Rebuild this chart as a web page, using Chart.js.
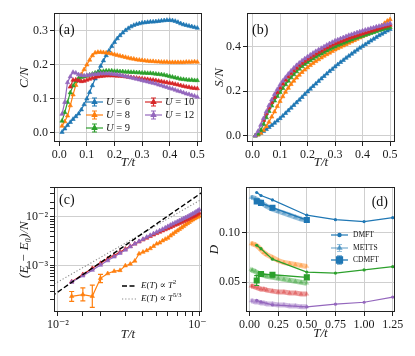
<!DOCTYPE html>
<html lang="en">
<head>
<meta charset="UTF-8">
<title>Hubbard thermodynamics</title>
<script src="https://cdn.jsdelivr.net/npm/chart.js@4.4.1/dist/chart.umd.min.js"></script>
<style>
    body { margin: 0; background: #fff; }
    #wrap { position: relative; width: 415px; height: 356px; }
    canvas { position: absolute; }
</style>
</head>
<body>
<div id="wrap">
    <canvas id="ca" width="207" height="178" style="left:0;top:0"></canvas>
    <canvas id="cb" width="208" height="178" style="left:207px;top:0"></canvas>
    <canvas id="cc" width="207" height="178" style="left:0;top:178px"></canvas>
    <canvas id="cd" width="208" height="178" style="left:207px;top:178px"></canvas>
</div>
<script>
// ---- panel (a)/(b): T grid, specific heat and entropy ----
const tGrid = [0.01,0.02,0.03,0.04,0.05,0.06,0.07,0.08,0.09,0.10,
               0.11,0.12,0.13,0.14,0.15,0.16,0.17,0.18,0.19,0.20,
               0.21,0.22,0.23,0.24,0.25,0.26,0.27,0.28,0.29,0.30,
               0.31,0.32,0.33,0.34,0.35,0.36,0.37,0.38,0.39,0.40,
               0.41,0.42,0.43,0.44,0.45,0.46,0.47,0.48,0.49,0.50];

const cU6  = [0.002,0.012,0.022,0.031,0.040,0.048,0.056,0.068,0.083,0.100, 0.119,0.139,0.159,0.178,0.196,0.212,0.227,0.241,0.254,0.266,
              0.277,0.286,0.294,0.301,0.307,0.312,0.316,0.319,0.321,0.323, 0.324,0.325,0.326,0.326,0.327,0.328,0.329,0.330,0.331,0.331,
              0.330,0.328,0.325,0.321,0.318,0.316,0.314,0.312,0.310,0.308];
const cU8  = [0.020,0.033,0.050,0.080,0.112,0.140,0.158,0.172,0.186,0.200, 0.214,0.227,0.235,0.237,0.237,0.236,0.235,0.234,0.232,0.230,
              0.228,0.226,0.224,0.222,0.220,0.218,0.217,0.215,0.214,0.213, 0.212,0.211,0.210,0.210,0.209,0.209,0.208,0.208,0.208,0.207,
              0.207,0.207,0.207,0.207,0.207,0.208,0.208,0.208,0.209,0.208];
const cU9  = [0.035,0.060,0.090,0.118,0.138,0.152,0.160,0.163,0.165,0.167, 0.170,0.173,0.176,0.178,0.180,0.181,0.182,0.182,0.182,0.181,
              0.181,0.180,0.180,0.179,0.179,0.178,0.178,0.177,0.177,0.176, 0.176,0.175,0.175,0.174,0.173,0.172,0.171,0.170,0.168,0.166,
              0.164,0.162,0.160,0.158,0.157,0.156,0.155,0.155,0.154,0.154];
const cU10 = [null,null,null,0.135,0.155,0.156,0.153,0.151,0.152,0.155, 0.158,0.161,0.163,0.165,0.166,0.167,0.168,0.168,0.168,0.168,
              0.167,0.167,0.166,0.165,0.164,0.163,0.162,0.161,0.160,0.159, 0.158,0.157,0.156,0.155,0.154,0.152,0.151,0.149,0.148,0.146,
              0.145,0.143,0.141,0.139,0.137,0.135,0.134,0.132,0.131,0.130];
const cU12 = [0.055,0.090,0.148,0.165,0.178,0.176,0.171,0.169,0.168,0.169, 0.170,0.171,0.172,0.173,0.174,0.174,0.174,0.174,0.173,0.172,
              0.171,0.170,0.168,0.166,0.164,0.162,0.160,0.158,0.156,0.154, 0.152,0.150,0.148,0.146,0.144,0.141,0.139,0.136,0.134,0.131,
              0.129,0.126,0.123,0.121,0.118,0.115,0.113,0.110,0.108,0.105];

const sU6  = [0.000,0.005,0.012,0.020,0.029,0.038,0.047,0.057,0.067,0.078, 0.089,0.101,0.113,0.125,0.137,0.149,0.161,0.173,0.186,0.198,
              0.210,0.222,0.233,0.245,0.256,0.267,0.278,0.289,0.299,0.310, 0.320,0.330,0.339,0.349,0.358,0.367,0.376,0.385,0.394,0.402,
              0.410,0.418,0.426,0.434,0.442,0.450,0.457,0.464,0.471,0.478];
const sU8  = [0.000,0.004,0.012,0.025,0.042,0.062,0.085,0.108,0.132,0.155, 0.176,0.196,0.214,0.231,0.246,0.260,0.273,0.285,0.296,0.306,
              0.316,0.325,0.334,0.342,0.350,0.358,0.365,0.372,0.379,0.386, 0.392,0.398,0.404,0.410,0.416,0.422,0.428,0.434,0.440,0.446,
              0.452,0.458,0.464,0.470,0.476,0.484,0.494,0.505,0.515,0.522];
const sU9  = [0.000,0.008,0.025,0.052,0.082,0.110,0.135,0.157,0.177,0.195, 0.213,0.230,0.246,0.261,0.275,0.288,0.300,0.311,0.321,0.330,
              0.338,0.346,0.354,0.361,0.368,0.375,0.382,0.388,0.394,0.400, 0.406,0.411,0.416,0.421,0.426,0.431,0.436,0.440,0.444,0.448,
              0.452,0.456,0.460,0.464,0.468,0.472,0.476,0.480,0.483,0.487];
const sU10 = [null,null,null,0.070,0.100,0.126,0.150,0.173,0.195,0.215, 0.233,0.250,0.265,0.279,0.292,0.304,0.315,0.325,0.334,0.343,
              0.351,0.359,0.367,0.374,0.381,0.388,0.395,0.401,0.407,0.413, 0.418,0.423,0.428,0.433,0.438,0.442,0.446,0.450,0.454,0.458,
              0.462,0.466,0.470,0.474,0.477,0.481,0.485,0.489,0.493,0.497];
const sU12 = [0.000,0.020,0.048,0.078,0.108,0.136,0.162,0.186,0.208,0.228, 0.246,0.262,0.277,0.291,0.304,0.316,0.327,0.337,0.346,0.355,
              0.363,0.371,0.379,0.386,0.393,0.400,0.407,0.414,0.420,0.426, 0.431,0.436,0.441,0.446,0.451,0.455,0.459,0.463,0.467,0.471,
              0.475,0.478,0.482,0.485,0.489,0.492,0.495,0.498,0.501,0.505];

// ---- panel (c): energy above ground state, log-log ----
const tLog = [0.0125,0.015,0.0175,0.02,0.0225,0.025,0.0275,0.03,0.0325,0.035,0.0375,0.04,0.0425,0.045,0.0475,0.05,0.0525,0.055,
              0.0575,0.06,0.0625,0.065,0.0675,0.07,0.0725,0.075,0.0775,0.08,0.0825,0.085,0.0875,0.09,0.0925,0.095,0.0975,0.1];
const eU8  = [2.35e-4,2.55e-4,2.35e-4,5.5e-4,6.9e-4,7.7e-4,8.0e-4,1.0e-3,1.08e-3,1.25e-3,1.75e-3,1.9e-3,2.05e-3,2.25e-3,2.5e-3,2.8e-3,
              2.95e-3,3.25e-3,3.5e-3,3.7e-3,4.1e-3,4.45e-3,4.85e-3,5.2e-3,5.6e-3,6.0e-3,6.45e-3,6.9e-3,7.35e-3,7.8e-3,8.3e-3,8.75e-3,
              9.2e-3,9.6e-3,1.0e-2,1.04e-2];
const eU8Lo = [1.85e-4,1.9e-4,1.4e-4,4.5e-4];
const eU8Hi = [2.95e-4,3.5e-4,4.0e-4,6.6e-4];
const eU10 = [4.7e-4,6.6e-4,8.8e-4,1.12e-3,1.38e-3,1.62e-3,1.9e-3,2.2e-3,2.5e-3,2.8e-3,3.1e-3,3.4e-3,3.7e-3,4.0e-3,4.3e-3,4.6e-3,
              4.9e-3,5.2e-3,5.5e-3,5.8e-3,6.1e-3,6.45e-3,6.8e-3,7.1e-3,7.45e-3,7.8e-3,8.15e-3,8.5e-3,8.9e-3,9.3e-3,9.7e-3,1.01e-2,
              1.05e-2,1.1e-2,1.15e-2,1.2e-2];
const eU12 = [4.6e-4,6.2e-4,8.1e-4,1.03e-3,1.27e-3,1.52e-3,1.8e-3,2.1e-3,2.45e-3,2.8e-3,3.15e-3,3.5e-3,3.85e-3,4.2e-3,4.55e-3,4.9e-3,
              5.25e-3,5.6e-3,6.0e-3,6.4e-3,6.8e-3,7.2e-3,7.6e-3,8.0e-3,8.4e-3,8.8e-3,9.3e-3,9.7e-3,1.01e-2,1.06e-2,1.11e-2,1.16e-2,
              1.21e-2,1.27e-2,1.33e-2,1.4e-2];
const fitT   = [0.009, 0.11];
const fitT2  = [2.35e-4, 3.51e-2];
const fitT53 = [3.9e-4, 2.52e-2];

// ---- panel (d): double occupancy ----
const tDmft    = [0.0625,0.1,0.2,0.5,0.75,1.0,1.25];
const dDmftU6  = [0.141,0.138,0.1335,0.118,0.1135,0.1115,0.1155];
const dDmftU9  = [0.0875,0.084,0.0734,0.0603,0.0593,0.0625,0.0658];
const dDmftU12 = [0.0315,0.030,0.027,0.025,0.0277,0.0297,0.0349];

const tMetts    = [0.0125,0.025,0.05,0.075,0.1,0.125,0.15,0.2,0.25,0.3,0.35,0.4,0.45,0.5];
const dMettsU6  = [0.136,0.136,0.135,0.133,0.131,0.129,0.127,0.124,0.122,0.120,0.118,0.116,0.114,0.113];
const dMettsU8  = [0.089,0.089,0.088,0.086,0.083,0.080,0.078,0.075,0.072,0.070,0.069,0.068,0.067,0.066];
const dMettsU9  = [0.063,0.062,0.061,0.059,0.058,0.057,0.056,0.055,0.054,0.053,0.052,0.051,0.050,0.049];
const dMettsU10 = [0.046,0.046,0.045,0.044,0.043,0.043,0.042,0.041,0.040,0.040,0.039,0.039,0.038,0.038];
const dMettsU12 = [0.031,0.031,0.030,0.030,0.029,0.029,0.028,0.028,0.027,0.027,0.026,0.026,0.025,0.025];

const tCdmft     = [0.0625,0.1,0.2,0.5];
const dCdmftU6   = [0.132,0.1305,0.1256,0.1131];
const dCdmftU6Lo = [0.130,0.1285,0.1236,0.1111];
const dCdmftU6Hi = [0.134,0.1325,0.1276,0.1151];
const dCdmftU9   = [0.0517,0.0583,0.0576,0.0549];
const dCdmftU9Lo = [0.0467,0.0563,0.0556,0.0529];
const dCdmftU9Hi = [0.0567,0.0603,0.0596,0.0569];

const BLUE = '#1f77b4', ORANGE = '#ff7f0e', GREEN = '#2ca02c', RED = '#d62728', PURPLE = '#9467bd';
const GRID = '#cfcfcf';
const FONT = "'Liberation Serif', 'DejaVu Serif', serif";

Chart.defaults.font.family = FONT;
Chart.defaults.font.size = 12;
Chart.defaults.color = '#1a1a1a';

function pts(xs, ys) {
    return xs.map((x, i) => ({ x: x, y: ys[i] }));
}

function light(hex, a) {
    const n = parseInt(hex.slice(1), 16);
    return 'rgba(' + (n >> 16) + ',' + ((n >> 8) & 255) + ',' + (n & 255) + ',' + a + ')';
}

function tri(xs, ys, color, order) {
    return {
        data: pts(xs, ys), borderColor: color, backgroundColor: color, borderWidth: 1.2,
        pointStyle: 'triangle', pointRadius: 2.5, pointBorderWidth: 0.6, order: order
    };
}

// error bars drawn through the y scale
const errorBars = {
    id: 'errorBars',
    afterDatasetsDraw(chart) {
        const ctx = chart.ctx, ys = chart.scales.y;
        chart.data.datasets.forEach((ds, i) => {
            if (!ds.errLo) return;
            const meta = chart.getDatasetMeta(i);
            ctx.save();
            ctx.strokeStyle = ds.borderColor;
            ctx.lineWidth = 1.2;
            meta.data.forEach((el, j) => {
                const lo = ds.errLo[j], hi = ds.errHi[j];
                if (lo == null || el.skip) return;
                const x = el.x, y1 = ys.getPixelForValue(lo), y2 = ys.getPixelForValue(hi);
                ctx.beginPath();
                ctx.moveTo(x, y1); ctx.lineTo(x, y2);
                ctx.moveTo(x - 2.5, y1); ctx.lineTo(x + 2.5, y1);
                ctx.moveTo(x - 2.5, y2); ctx.lineTo(x + 2.5, y2);
                ctx.stroke();
            });
            ctx.restore();
        });
    }
};

const frame = {
    id: 'frame',
    afterDatasetsDraw(chart) {
        const a = chart.chartArea, ctx = chart.ctx;
        ctx.save();
        ctx.strokeStyle = '#222';
        ctx.lineWidth = 1;
        ctx.strokeRect(Math.round(a.left) + 0.5, Math.round(a.top) + 0.5,
                       Math.round(a.right - a.left) - 1, Math.round(a.bottom - a.top) - 1);
        ctx.restore();
    }
};

function deco(fn) {
    return { id: 'deco', afterDraw(chart) { const ctx = chart.ctx; ctx.save(); fn(ctx); ctx.restore(); } };
}

// write a run of text pieces: [text, style, size, dy]
function txt(ctx, parts, x, y) {
    ctx.textAlign = 'left';
    ctx.textBaseline = 'middle';
    parts.forEach(p => {
        ctx.font = (p[1] || 'normal') + ' ' + (p[2] || 10) + 'px ' + FONT;
        ctx.fillText(p[0], x, y + (p[3] || 0));
        x += ctx.measureText(p[0]).width;
    });
}

function mark(ctx, x0, y, w, color, style, radius, lineW, err) {
    ctx.strokeStyle = color;
    ctx.fillStyle = color;
    ctx.lineWidth = lineW;
    ctx.setLineDash([]);
    ctx.beginPath(); ctx.moveTo(x0, y); ctx.lineTo(x0 + w, y); ctx.stroke();
    const xm = x0 + w / 2;
    if (err) {
        ctx.lineWidth = 1.2;
        ctx.beginPath();
        ctx.moveTo(xm, y - err); ctx.lineTo(xm, y + err);
        ctx.moveTo(xm - 2.5, y - err); ctx.lineTo(xm + 2.5, y - err);
        ctx.moveTo(xm - 2.5, y + err); ctx.lineTo(xm + 2.5, y + err);
        ctx.stroke();
    }
    Chart.helpers.drawPoint(ctx, { pointStyle: style, radius: radius, rotation: 0, borderWidth: 0.6 }, xm, y);
}

function axis(o) {
    return {
        type: o.type || 'linear', min: o.min, max: o.max,
        title: { display: true, text: o.title, font: { size: 13, style: 'italic' }, padding: o.tpad },
        grid: { color: o.gridColor || GRID, lineWidth: 1, tickLength: 4, tickColor: o.tickColor || '#222' },
        border: { display: false },
        ticks: { stepSize: o.step, includeBounds: false, autoSkip: false, maxRotation: 0, padding: 2, callback: o.cb },
        afterFit: o.fit
    };
}

const base = (pad) => ({
    responsive: false, animation: false,
    layout: { padding: pad },
    plugins: { legend: { display: false }, tooltip: { enabled: false } }
});

const f1 = v => v.toFixed(1);
const f2 = v => v.toFixed(2);

// ---------- (a) ----------
new Chart(document.getElementById('ca'), {
    type: 'line',
    data: { datasets: [
        tri(tGrid, cU6, BLUE, 5), tri(tGrid, cU8, ORANGE, 4), tri(tGrid, cU9, GREEN, 3),
        tri(tGrid, cU10, RED, 2), tri(tGrid, cU12, PURPLE, 1)
    ] },
    options: Object.assign(base({ top: 13, right: 5, left: 0, bottom: 0 }), {
        scales: {
            x: axis({ min: -0.019, max: 0.517, step: 0.1, cb: f1, title: 'T/t', tpad: { top: 0, bottom: 7.2 }, fit: s => { s.height = 36; } }),
            y: axis({ min: -0.027, max: 0.352, step: 0.1, cb: f1, title: 'C/N', tpad: { top: 17.2, bottom: 0 }, fit: s => { s.width = 54; } })
        }
    }),
    plugins: [errorBars, frame, deco(ctx => {
        ctx.fillStyle = '#111';
        txt(ctx, [['(a)', 'normal', 14]], 59, 30);
        [[BLUE, '6', 86, 102], [ORANGE, '8', 86, 115], [GREEN, '9', 86, 128],
         [RED, '10', 145, 102], [PURPLE, '12', 145, 115]].forEach(e => {
            mark(ctx, e[2], e[3], 17, e[0], 'triangle', 2.6, 1.2, 4);
            ctx.fillStyle = '#111';
            txt(ctx, [['U', 'italic', 10.5], [' = ' + e[1], 'normal', 10.5]], e[2] + 20, e[3]);
        });
    })]
});

// ---------- (b) ----------
new Chart(document.getElementById('cb'), {
    type: 'line',
    data: { datasets: [
        tri(tGrid, sU6, BLUE, 5), tri(tGrid, sU8, ORANGE, 4), tri(tGrid, sU9, GREEN, 3),
        tri(tGrid, sU10, RED, 2), tri(tGrid, sU12, PURPLE, 1)
    ] },
    options: Object.assign(base({ top: 13, right: 20, left: 0, bottom: 0 }), {
        scales: {
            x: axis({ min: -0.020, max: 0.518, step: 0.1, cb: f1, title: 'T/t', tpad: { top: 0, bottom: 7.2 }, fit: s => { s.height = 36; } }),
            y: axis({ min: -0.028, max: 0.551, step: 0.2, cb: f1, title: 'S/N', tpad: { top: 5.2, bottom: 0 }, fit: s => { s.width = 40; } })
        }
    }),
    plugins: [errorBars, frame, deco(ctx => {
        ctx.fillStyle = '#111';
        txt(ctx, [['(b)', 'normal', 14]], 45, 30);
    })]
});

// ---------- (c) ----------
const isDecade = v => Math.abs(Math.log10(v) - Math.round(Math.log10(v))) < 1e-6;
const supLabel = { '-1': '10\u207B\u00B9', '-2': '10\u207B\u00B2', '-3': '10\u207B\u00B3' };
const logCb = v => isDecade(v) ? (supLabel[String(Math.round(Math.log10(v)))] || '') : '';
const logGrid = c => (c.tick && isDecade(c.tick.value)) ? GRID : 'rgba(0,0,0,0)';

const xc = axis({ type: 'logarithmic', min: 0.00937, max: 0.1047, cb: logCb, title: 'T/t', gridColor: logGrid,
                  tpad: { top: 0, bottom: 13.2 }, fit: s => { s.height = 44; } });
xc.grid.tickColor = c => (c.tick && (c.tick.value <= 0.00937 || c.tick.value >= 0.1047)) ? 'rgba(0,0,0,0)' : '#222';
const yc = axis({ type: 'logarithmic', min: 1.12e-4, max: 0.0407, cb: logCb, title: '(E \u2212 E\u2080)/N', gridColor: logGrid,
                  tpad: { top: 17.2, bottom: 0 }, fit: s => { s.width = 54; } });
yc.grid.tickColor = c => (c.tick && (c.tick.value <= 1.12e-4 || c.tick.value >= 0.0407)) ? 'rgba(0,0,0,0)' : '#222';

const orangeC = tri(tLog, eU8, ORANGE, 3);
orangeC.errLo = eU8Lo;
orangeC.errHi = eU8Hi;

new Chart(document.getElementById('cc'), {
    type: 'line',
    data: { datasets: [
        orangeC, tri(tLog, eU10, RED, 2), tri(tLog, eU12, PURPLE, 1),
        { data: pts(fitT, fitT2), borderColor: '#000', borderWidth: 1.4, borderDash: [5, 2.5], pointRadius: 0, order: 0 },
        { data: pts(fitT, fitT53), borderColor: '#8a8a8a', borderWidth: 1.1, borderDash: [1.2, 2], pointRadius: 0, order: 0 }
    ] },
    options: Object.assign(base({ top: 6, right: 5, left: 0, bottom: 0 }), {
        scales: { x: xc, y: yc }
    }),
    plugins: [errorBars, frame, deco(ctx => {
        ctx.fillStyle = '#111';
        txt(ctx, [['(c)', 'normal', 14]], 59, 22);
        ctx.strokeStyle = '#000'; ctx.lineWidth = 1.4; ctx.setLineDash([5, 2.5]);
        ctx.beginPath(); ctx.moveTo(122, 108); ctx.lineTo(137, 108); ctx.stroke();
        ctx.strokeStyle = '#8a8a8a'; ctx.lineWidth = 1.1; ctx.setLineDash([1.2, 2]);
        ctx.beginPath(); ctx.moveTo(122, 121); ctx.lineTo(137, 121); ctx.stroke();
        ctx.setLineDash([]);
        txt(ctx, [['E', 'italic', 9], ['(', 'normal', 9], ['T', 'italic', 9], [') \u221D ', 'normal', 9], ['T', 'italic', 9], ['2', 'normal', 6.5, -3.5]], 141, 108);
        txt(ctx, [['E', 'italic', 9], ['(', 'normal', 9], ['T', 'italic', 9], [') \u221D ', 'normal', 9], ['T', 'italic', 9], ['5/3', 'normal', 6.5, -3.5]], 141, 121);
    })]
});

// ---------- (d) ----------
function dmft(ys, color) {
    return { data: pts(tDmft, ys), borderColor: color, backgroundColor: color, borderWidth: 1.2,
             pointStyle: 'circle', pointRadius: 1.6, pointBorderWidth: 0, order: 1 };
}
function metts(ys, color) {
    return { data: pts(tMetts, ys), borderColor: light(color, 0.45), backgroundColor: light(color, 0.4), borderWidth: 5,
             pointStyle: 'triangle', pointRadius: 2.8, pointBorderWidth: 0, order: 3 };
}
function cdmft(ys, lo, hi, color) {
    return { data: pts(tCdmft, ys), borderColor: color, backgroundColor: color, borderWidth: 1.3,
             pointStyle: 'rect', pointRadius: 4.3, pointBorderWidth: 0, order: 0, errLo: lo, errHi: hi };
}

new Chart(document.getElementById('cd'), {
    type: 'line',
    data: { datasets: [
        metts(dMettsU6, BLUE), metts(dMettsU8, ORANGE), metts(dMettsU9, GREEN), metts(dMettsU10, RED), metts(dMettsU12, PURPLE),
        dmft(dDmftU6, BLUE), dmft(dDmftU9, GREEN), dmft(dDmftU12, PURPLE),
        cdmft(dCdmftU6, dCdmftU6Lo, dCdmftU6Hi, BLUE), cdmft(dCdmftU9, dCdmftU9Lo, dCdmftU9Hi, GREEN)
    ] },
    options: Object.assign(base({ top: 6, right: 20, left: 0, bottom: 0 }), {
        scales: {
            x: axis({ min: -0.031, max: 1.27, step: 0.25, cb: f2, title: 'T/t', tpad: { top: 0, bottom: 14.9 }, fit: s => { s.height = 44; } }),
            y: axis({ min: 0.0198, max: 0.1464, step: 0.05, cb: f2, title: 'D', tpad: { top: 0, bottom: 0 }, fit: s => { s.width = 39; } })
        }
    }),
    plugins: [errorBars, frame, deco(ctx => {
        ctx.fillStyle = '#111';
        ctx.font = '14px ' + FONT;
        ctx.textAlign = 'right'; ctx.textBaseline = 'middle';
        ctx.fillText('(d)', 181, 24);
        mark(ctx, 124, 57, 17, BLUE, 'circle', 1.6, 1.2, 0);
        mark(ctx, 124, 70, 17, light(BLUE, 0.45), 'triangle', 2.6, 1.6, 3.5);
        mark(ctx, 124, 82, 17, BLUE, 'rect', 4.3, 1.3, 4);
        ctx.fillStyle = '#111';
        txt(ctx, [['DMFT', 'normal', 7.5]], 146, 57);
        txt(ctx, [['METTS', 'normal', 7.5]], 146, 70);
        txt(ctx, [['CDMFT', 'normal', 7.5]], 146, 82);
    })]
});
</script>
</body>
</html>
